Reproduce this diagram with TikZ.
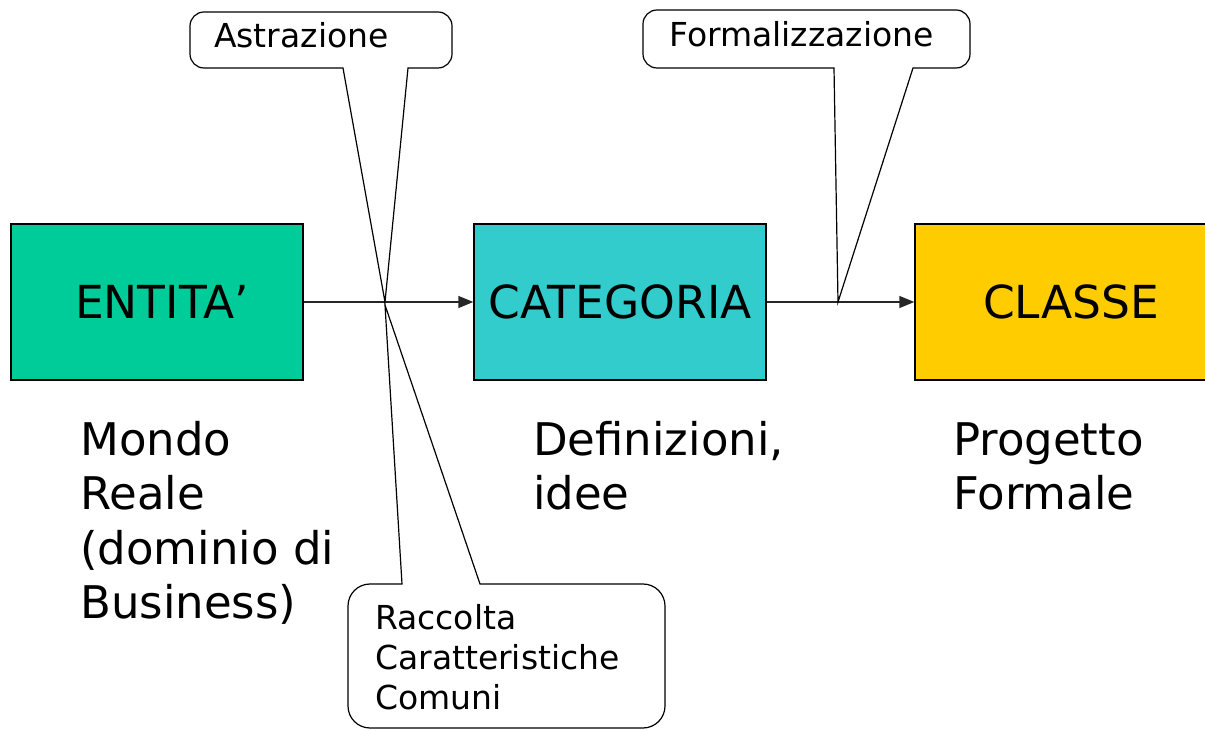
\documentclass[tikz,border=0pt]{standalone}
\usepackage{fontspec}
\setmainfont{DejaVu Sans}
\usetikzlibrary{arrows.meta}
\definecolor{entc}{RGB}{0,204,153}
\definecolor{catc}{RGB}{51,204,204}
\definecolor{clsc}{RGB}{255,204,0}
\begin{document}
\begin{tikzpicture}[x=1pt,y=1pt,
  box/.style={draw=black,line width=1.4pt,inner sep=0pt,minimum height=156pt,
    font=\fontsize{45.5}{54}\selectfont},
  big/.style={font=\fontsize{45}{54.5}\selectfont,inner sep=0pt,anchor=base west,align=left},
  small/.style={font=\fontsize{33}{40}\selectfont,inner sep=0pt,anchor=base west,align=left},
  conn/.style={draw=black!85,line width=1.4pt,-{Triangle[length=15pt,width=12pt]}},
  callout/.style={draw=black,line width=1.2pt,fill=white}]
\useasboundingbox (0,0) rectangle (1205,731);
\clip (0,0) rectangle (1205,731);
% boxes
\node[box,fill=entc,minimum width=292pt] (ent) at (157,429) {\hspace*{10pt}ENTITA’};
\node[box,fill=catc,minimum width=292pt] (cat) at (620,429) {CATEGORIA};
\node[box,fill=clsc,minimum width=312pt] (cls) at (1071,429) {CLASSE};
% connectors
\draw[conn] (ent.east) -- (cat.west);
\draw[conn] (cat.east) -- (cls.west);
% callout tips
\coordinate (apexA) at (385,429);
\coordinate (apexR) at (385,426);
\coordinate (apexF) at (838,429);
% callouts
\draw[callout] (204,719) -- (438,719) arc[start angle=90,end angle=0,radius=14pt]
  -- (452,677) arc[start angle=0,end angle=-90,radius=14pt]
  -- (408,663) -- (apexA) -- (343,663)
  -- (204,663) arc[start angle=270,end angle=180,radius=14pt]
  -- (190,705) arc[start angle=180,end angle=90,radius=14pt] -- cycle;
\draw[callout] (657,721) -- (956,721) arc[start angle=90,end angle=0,radius=14pt]
  -- (970,677) arc[start angle=0,end angle=-90,radius=14pt]
  -- (913,663) -- (apexF) -- (834,663)
  -- (657,663) arc[start angle=270,end angle=180,radius=14pt]
  -- (643,707) arc[start angle=180,end angle=90,radius=14pt] -- cycle;
\draw[callout] (370,147) -- (402,147) -- (apexR) -- (480,147)
  -- (643,147) arc[start angle=90,end angle=0,radius=22pt]
  -- (665,25) arc[start angle=0,end angle=-90,radius=22pt]
  -- (370,3) arc[start angle=270,end angle=180,radius=22pt]
  -- (348,125) arc[start angle=180,end angle=90,radius=22pt] -- cycle;
% texts (base anchor = baseline of the last line)
\node[big] (mondo) at (80,112) {Mondo\\Reale\\(dominio di\\Business)};
\node[big] (defin) at (533,221) {Definizioni,\\idee};
\node[big] (prog) at (953,221) {Progetto\\Formale};
\node[small] (astr) at (214,683) {Astrazione};
\node[small] (form) at (669,684) {Formalizzazione};
\node[small] (racc) at (375,21) {Raccolta\\Caratteristiche\\Comuni};
\end{tikzpicture}
\end{document}
